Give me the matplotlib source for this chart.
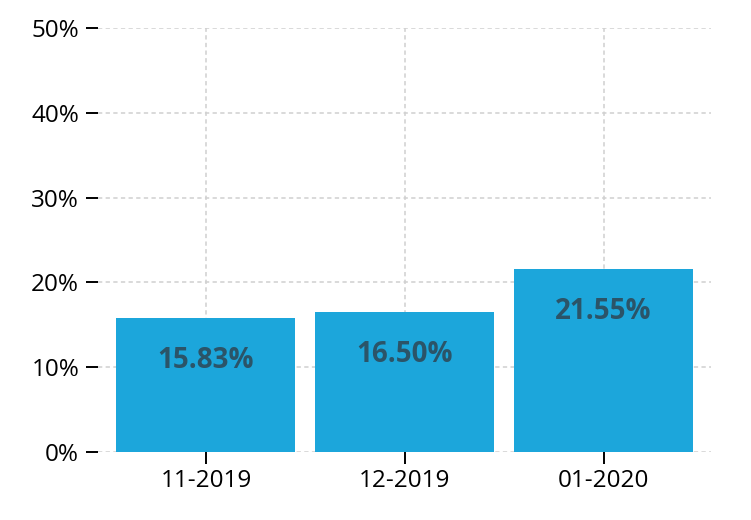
import matplotlib
matplotlib.use("Agg")
import matplotlib.pyplot as plt
from matplotlib.ticker import FuncFormatter

categories = ["11-2019", "12-2019", "01-2020"]
values = [15.83, 16.50, 21.55]
yticks = [0, 10, 20, 30, 40, 50]

plt.rcParams['font.family'] = ['Open Sans', 'DejaVu Sans']

fig = plt.figure(figsize=(7.51, 5.20), dpi=100)
ax = fig.add_axes([98/751, 1-452/520, (711-98)/751, (452-28)/520])

x = list(range(len(categories)))
bars = ax.bar(x, values, width=0.9, color="#1ca6db", zorder=2)

for xi, v in zip(x, values):
    ax.annotate(f"{v:.2f}%", xy=(xi, v), xytext=(0, -30.5), textcoords="offset points",
                ha="center", va="center", fontsize=20, fontweight="bold",
                color="#2b5468", zorder=3)

ax.set_xlim(-0.543, 2.54)
ax.set_ylim(0, 50)
ax.set_xticks(x)
ax.set_xticklabels(categories)
ax.set_yticks(yticks)
ax.yaxis.set_major_formatter(FuncFormatter(lambda v, p: f"{v:.0f}%"))

for s in ax.spines.values():
    s.set_visible(False)

ax.tick_params(axis="both", length=8.5, width=1.4, color="black", labelsize=17.5, pad=5)
ax.tick_params(axis="x", pad=4)
ax.grid(True, color="#d0d0d0", linestyle=(0, (2.8, 2.2)), linewidth=1.1, zorder=0)
ax.set_axisbelow(True)

fig.savefig("out.png", dpi=100)
